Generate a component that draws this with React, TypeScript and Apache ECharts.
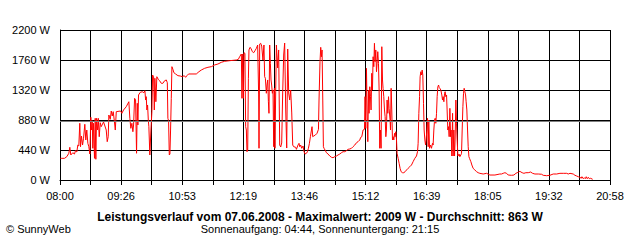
import React, { useEffect, useRef } from 'react';
import * as echarts from 'echarts';

// Minutes after 08:00 and measured power in W
const morning: [number, number][] = [
  [0.5, 318], [1.7, 318], [6.4, 318], [9.6, 342], [12.5, 392], [13.9, 480], [15.3, 367], [18.1, 400], [20.5, 381], [21.9, 430], [23.8, 411], [25.2, 513], [26.6, 499], [28.0, 832], [29.0, 488], [30.4, 645], [31.9, 513], [33.3, 612], [35.1, 817], [36.5, 587], [37.9, 733], [39.4, 538], [40.8, 488], [42.2, 381], [43.6, 920], [44.6, 733], [45.6, 870], [46.4, 465], [47.4, 832], [48.8, 318], [49.8, 905], [50.7, 304], [51.7, 905], [53.1, 733], [54.1, 905], [55.5, 635], [56.9, 840], [58.3, 782], [61.6, 851], [65.4, 733], [66.8, 562], [68.2, 635], [69.1, 953], [71.1, 890], [72.5, 1012], [73.9, 939], [75.3, 1002], [76.7, 880], [78.2, 733], [79.6, 1002], [85.7, 1012], [87.5, 978], [89.9, 1027], [93.7, 1075], [97.4, 1148], [98.8, 905], [100.2, 758], [101.7, 832], [103.1, 708], [104.1, 807], [105.5, 1198], [106.9, 1173], [108.3, 392], [109.3, 1125], [110.2, 807], [111.1, 1247], [113.5, 1286], [116.4, 1295], [118.6, 1280], [120.1, 1310], [121.1, 1173], [122.0, 1222], [122.9, 1027], [123.9, 1100], [124.9, 880], [125.7, 782], [127.1, 367], [128.6, 733], [130.0, 1002], [131.0, 1540], [132.4, 1515], [133.4, 1027], [134.2, 1492], [135.6, 1148], [137.0, 1515], [139.0, 1477], [140.9, 1456], [143.3, 1418], [145.5, 1418], [148.0, 1456], [150.4, 1467], [151.8, 1427], [152.6, 905], [153.6, 870], [154.6, 367]
];

const midday: [number, number][] = [
  [155.5, 381], [156.4, 733], [157.4, 1198], [158.3, 1662], [159.7, 1624], [161.1, 1574], [163.5, 1555], [166.8, 1530], [170.2, 1525], [173.0, 1515], [175.8, 1530], [177.7, 1506], [179.5, 1530], [181.9, 1555], [192.8, 1555], [196.5, 1588], [199.9, 1613], [204.6, 1638], [209.3, 1653], [214.1, 1662], [218.7, 1687], [223.4, 1701], [228.2, 1726], [232.9, 1741], [240.0, 1750], [249.5, 1760], [252.3, 1770], [254.1, 1808], [256.5, 1848], [257.4, 1198], [258.4, 1848], [259.4, 1198], [260.2, 1867], [261.6, 1858], [262.6, 782], [263.6, 733], [264.5, 415], [265.5, 440], [266.5, 1492], [267.3, 1907], [268.7, 1946], [270.1, 1932], [272.1, 1882], [274.0, 1867], [275.8, 1896], [277.8, 1932], [279.6, 1980], [281.0, 1247], [281.5, 465], [282.5, 1995], [283.9, 2005], [285.3, 1965], [287.1, 1760], [288.5, 1980], [289.5, 1515], [290.5, 1492], [291.9, 1272], [292.8, 1393], [293.8, 1467], [294.8, 1148], [295.6, 978], [296.6, 1980], [297.6, 1712], [298.5, 1467], [299.4, 1393], [300.4, 1272], [301.3, 1320], [302.3, 488], [303.3, 1345], [304.1, 465], [305.1, 1295], [306.1, 1980], [307.9, 1643], [309.3, 1907], [310.8, 513], [312.2, 484], [313.6, 543], [315.0, 1276], [316.4, 1833], [317.8, 2009], [319.3, 1027], [320.7, 469], [322.1, 1921], [323.5, 1276], [324.9, 1173], [326.3, 1320], [327.8, 983], [329.2, 513], [330.6, 488], [333.4, 480]
];

const afternoon: [number, number][] = [
  [334.4, 450], [336.7, 513], [338.1, 538], [339.1, 488], [340.5, 513], [341.9, 465], [343.8, 499], [345.2, 415], [346.6, 381], [348.6, 392], [350.0, 415], [351.4, 465], [352.8, 538], [354.2, 635], [355.7, 733], [356.5, 782], [357.5, 635], [358.9, 645], [361.3, 660], [363.6, 685], [365.6, 743], [366.4, 1173], [367.8, 1735], [368.8, 1946], [369.8, 1808], [370.7, 1907], [371.7, 1173], [372.6, 488], [373.5, 465], [374.9, 440], [376.9, 400], [379.2, 381], [381.6, 352], [384.0, 333], [386.2, 327], [388.6, 342], [391.0, 352], [393.3, 367], [395.7, 381], [398.1, 400], [400.4, 415], [402.8, 415], [405.2, 430], [407.5, 450], [409.9, 455], [412.3, 465], [414.5, 488], [417.0, 513], [419.4, 547], [421.6, 562], [424.0, 587], [425.4, 626], [426.9, 635], [428.7, 733], [430.7, 743], [431.5, 1222], [432.5, 758], [433.5, 1638], [434.4, 1027], [435.4, 562], [436.4, 1320], [437.2, 978], [438.2, 1368], [439.2, 1222], [440.0, 1027], [441.0, 1565], [442.0, 1320], [442.9, 1808], [443.9, 1662], [444.8, 2005], [445.7, 1735], [446.7, 1907], [447.7, 1588], [448.5, 1712], [449.5, 1882], [450.5, 1712], [451.4, 1320], [452.3, 465], [453.3, 733], [454.2, 465], [455.2, 1955], [456.2, 1467], [457.0, 1345], [458.0, 1222], [459.0, 1027], [459.9, 928], [460.9, 635], [461.8, 733], [462.7, 1173], [463.7, 978], [464.7, 1222], [465.5, 1051], [466.9, 880], [467.5, 733], [468.4, 1345], [469.3, 1027], [470.3, 587], [471.2, 635], [472.2, 587], [473.2, 685], [474.0, 635], [475.0, 708], [476.0, 587], [476.8, 392], [478.3, 318], [479.7, 245], [481.1, 171], [482.5, 122], [484.5, 107], [486.3, 107], [488.2, 122], [490.2, 147], [492.4, 171], [494.8, 195], [497.2, 220], [499.5, 269], [501.9, 318], [504.3, 352], [505.7, 415], [506.6, 538], [507.6, 978], [508.6, 1222], [509.4, 1515], [510.4, 1588], [511.4, 1540], [512.3, 1613], [513.2, 1540], [514.2, 1125], [515.1, 733], [516.1, 587], [517.1, 513], [517.9, 587], [518.9, 733], [519.9, 905], [520.8, 488], [521.7, 880], [522.7, 465], [524.1, 513], [525.5, 465], [526.9, 538], [527.8, 513], [528.8, 733], [529.8, 880], [530.7, 905], [531.6, 832], [532.6, 978], [533.5, 1222], [534.5, 1368], [535.5, 1393], [536.3, 1359], [537.3, 1345], [538.7, 1320], [540.1, 1247], [541.1, 1173], [542.0, 1222], [543.0, 1148], [544.0, 1272], [544.8, 1295], [545.8, 1222], [546.8, 1247], [547.6, 1027], [548.6, 733], [549.6, 782], [550.5, 635], [551.5, 1051], [552.5, 635], [553.3, 733], [554.3, 352], [555.3, 978], [556.1, 352], [557.1, 733], [558.1, 352], [558.9, 587], [560.0, 1173], [560.9, 832], [561.8, 587], [562.8, 352], [563.8, 367], [564.6, 381], [565.6, 342], [567.0, 367], [568.0, 392], [568.9, 733], [569.9, 1075], [570.8, 1272], [571.7, 1345], [572.7, 1295], [573.7, 1247], [574.5, 1148], [575.5, 1027], [576.5, 733], [577.4, 488], [578.4, 342], [579.3, 318], [580.2, 293], [581.2, 269], [582.6, 220], [584.4, 171], [586.8, 147], [589.3, 122], [591.5, 107], [593.9, 98], [598.6, 88], [603.4, 98], [608.1, 73], [615.2, 73]
];

const evening: [number, number][] = [
  [622.2, 88], [624.6, 88], [626.9, 98], [629.3, 107], [631.7, 98], [634.0, 73], [638.8, 69], [642.1, 73], [644.9, 98], [646.7, 107], [648.7, 117], [650.6, 128], [652.0, 117], [653.8, 107], [656.2, 98], [659.0, 107], [662.3, 107], [665.7, 117], [668.5, 98], [671.8, 88], [676.5, 88], [681.3, 84], [683.5, 69], [688.4, 63], [693.0, 69], [697.7, 88], [702.5, 88], [707.2, 98], [711.9, 98], [716.7, 98], [719.0, 88], [721.4, 98], [726.0, 88], [728.4, 69], [730.8, 59], [733.1, 48], [735.5, 40], [737.3, 25], [738.3, 48], [740.2, 19], [741.6, 34], [743.0, 19], [744.4, 48], [745.8, 19], [747.3, 40], [748.7, 19], [750.6, 25], [753.5, 10]
];

const xTickLabels = ['08:00', '09:26', '10:53', '12:19', '13:46', '15:12', '16:39', '18:05', '19:32', '20:58'];
const spanMinutes = 778;
const gridSteps = 18;
const yMax = 2200;
const yStep = 440;
const averageW = 863;

const titleText = 'Leistungsverlauf vom 07.06.2008 - Maximalwert: 2009 W - Durchschnitt: 863 W';
const subText = 'Sonnenaufgang: 04:44, Sonnenuntergang: 21:15';
const copyText = '\u00a9 SunnyWeb';

const FONT = '"Liberation Sans", Arial, sans-serif';

export default function App() {
  const ref = useRef<HTMLDivElement>(null);
  useEffect(() => {
    if (!ref.current) return;
    const chart = echarts.init(ref.current, null, { renderer: 'svg' });
    const step = spanMinutes / gridSteps;
    chart.setOption({
      animation: false,
      backgroundColor: '#ffffff',
      textStyle: { fontFamily: FONT },
      grid: { left: 60, right: 30, top: 30, bottom: 60 },
      xAxis: {
        type: 'value',
        min: 0,
        max: spanMinutes,
        interval: step,
        axisLine: { show: true, lineStyle: { color: '#000', width: 1 } },
        axisTick: { show: true, length: 5, lineStyle: { color: '#000', width: 1 } },
        splitLine: { show: true, lineStyle: { color: '#000', width: 1 } },
        axisLabel: {
          color: '#000',
          fontSize: 11,
          fontFamily: FONT,
          margin: 10,
          showMinLabel: true,
          showMaxLabel: true,
          formatter: (v: number) => {
            const i = Math.round(v / step);
            return i % 2 === 0 ? xTickLabels[i / 2] ?? '' : '';
          },
        },
      },
      yAxis: {
        type: 'value',
        min: 0,
        max: yMax,
        interval: yStep,
        axisLine: { show: true, lineStyle: { color: '#000', width: 1 } },
        axisTick: { show: false },
        splitLine: { show: true, lineStyle: { color: '#000', width: 1 } },
        axisLabel: {
          color: '#000', fontSize: 11, fontFamily: FONT, margin: 10,
          formatter: (v: number) => `${v} W`,
        },
      },
      series: [
        {
          type: 'line',
          data: [...morning, ...midday, ...afternoon, ...evening],
          symbol: 'none',
          showSymbol: false,
          lineStyle: { color: '#ff0000', width: 1 },
          markLine: {
            silent: true,
            symbol: 'none',
            label: { show: false },
            lineStyle: { color: '#808080', type: 'solid', width: 1 },
            data: [{ yAxis: averageW }],
          },
        },
      ],
      graphic: [
        {
          type: 'text', x: 320, y: 217,
          style: { text: titleText, font: `bold 12px ${FONT}`, fill: '#000', align: 'center', verticalAlign: 'middle' },
        },
        {
          type: 'text', x: 320, y: 229,
          style: { text: subText, font: `11px ${FONT}`, fill: '#000', align: 'center', verticalAlign: 'middle' },
        },
        {
          type: 'text', x: 6, y: 229,
          style: { text: copyText, font: `11px ${FONT}`, fill: '#000', align: 'left', verticalAlign: 'middle' },
        },
      ],
    });
    return () => chart.dispose();
  }, []);
  return <div ref={ref} style={{ position: 'absolute', left: 0, top: 0, width: 640, height: 240 }} />;
}
